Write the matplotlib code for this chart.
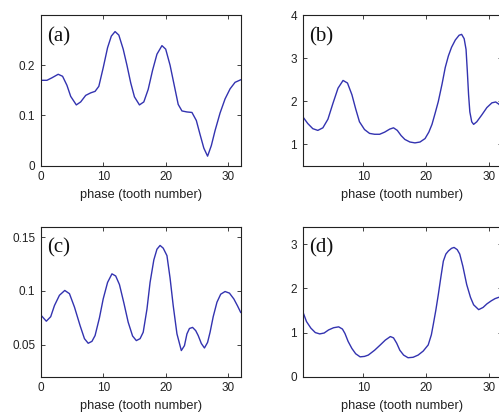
import matplotlib
matplotlib.use("Agg")
import matplotlib.pyplot as plt

# ---- data ----
a_x = [0, 1.0, 1.8, 2.8, 3.5, 4.2, 4.8, 5.7, 6.4, 7.2, 8.0, 8.7, 9.3, 10.0, 10.7, 11.3, 11.9, 12.5,
       13.2, 13.8, 14.4, 15.0, 15.8, 16.5, 17.2, 17.9, 18.6, 19.4, 20.0, 20.7, 21.4, 22.0, 22.6,
       23.4, 24.2, 24.9, 25.5, 26.1, 26.7, 27.3, 27.9, 28.7, 29.5, 30.3, 31.1, 32.0]
a_y = [0.170, 0.170, 0.175, 0.182, 0.178, 0.160, 0.138, 0.121, 0.127, 0.140, 0.145, 0.148, 0.158,
       0.195, 0.235, 0.258, 0.267, 0.260, 0.232, 0.200, 0.165, 0.137, 0.121, 0.127, 0.152, 0.190,
       0.222, 0.239, 0.232, 0.200, 0.158, 0.122, 0.109, 0.107, 0.106, 0.090, 0.062, 0.035, 0.019,
       0.040, 0.070, 0.105, 0.133, 0.153, 0.166, 0.171]

b_x = [0.4, 1.2, 2.0, 2.8, 3.6, 4.4, 5.2, 6.0, 6.8, 7.5, 8.2, 8.8, 9.4, 10.2, 11.0, 11.8, 12.6,
       13.4, 14.2, 14.8, 15.4, 16.0, 16.6, 17.4, 18.2, 19.0, 19.8, 20.4, 20.9, 21.4, 21.9, 22.5,
       23.0, 23.5, 24.0, 24.6, 25.2, 25.6, 26.0, 26.3, 26.5, 26.7, 26.9, 27.2, 27.5, 28.0, 28.8,
       29.6, 30.4, 31.0, 31.5, 32.0]
b_y = [1.64, 1.48, 1.36, 1.32, 1.38, 1.58, 1.95, 2.30, 2.48, 2.42, 2.15, 1.82, 1.52, 1.34, 1.25,
       1.23, 1.23, 1.28, 1.35, 1.38, 1.32, 1.20, 1.11, 1.05, 1.03, 1.05, 1.13, 1.28, 1.46, 1.72,
       1.99, 2.40, 2.78, 3.05, 3.25, 3.42, 3.53, 3.55, 3.45, 3.20, 2.70, 2.15, 1.75, 1.52, 1.46,
       1.52, 1.68, 1.85, 1.96, 1.98, 1.93, 1.85]

c_x = [0, 0.9, 1.6, 2.2, 3.0, 3.85, 4.6, 5.4, 6.3, 7.0, 7.6, 8.2, 8.7, 9.4, 10.0, 10.7, 11.4,
       12.0, 12.6, 13.3, 14.0, 14.7, 15.3, 15.9, 16.4, 17.0, 17.5, 18.1, 18.6, 19.1, 19.6, 20.2,
       20.7, 21.2, 21.8, 22.5, 23.0, 23.4, 23.8, 24.3, 24.8, 25.2, 25.7, 26.2, 26.7, 27.1, 27.6,
       28.2, 28.8, 29.5, 30.2, 30.9, 31.5, 32.0]
c_y = [0.0777, 0.0718, 0.0760, 0.0864, 0.0960, 0.1005, 0.0975, 0.0850, 0.0677, 0.0555, 0.0512,
       0.0530, 0.0584, 0.0750, 0.0926, 0.1080, 0.1160, 0.1140, 0.1060, 0.0890, 0.0708, 0.0580,
       0.0537, 0.0555, 0.0615, 0.0830, 0.1080, 0.1290, 0.1390, 0.1425, 0.1400, 0.1330, 0.1120,
       0.0864, 0.0600, 0.0444, 0.0490, 0.0600, 0.0650, 0.0660, 0.0630, 0.0584, 0.0510, 0.0468,
       0.0520, 0.0615, 0.0760, 0.0895, 0.0970, 0.0995, 0.0980, 0.0926, 0.0860, 0.0800]

d_x = [0.4, 1.0, 1.7, 2.4, 3.1, 3.8, 4.5, 5.3, 6.1, 6.7, 7.1, 7.6, 8.2, 8.8, 9.5, 10.2, 10.8,
       11.8, 12.7, 13.5, 14.3, 14.8, 15.3, 15.8, 16.4, 17.1, 17.9, 18.7, 19.5, 20.3, 20.8, 21.1,
       21.5, 21.9, 22.3, 22.7, 23.1, 23.5, 24.0, 24.4, 24.9, 25.3, 25.8, 26.4, 27.0, 27.5, 28.3,
       29.0, 29.6, 30.3, 30.9, 31.5, 32.0]
d_y = [1.48, 1.25, 1.10, 1.00, 0.97, 0.99, 1.06, 1.11, 1.13, 1.08, 0.98, 0.80, 0.64, 0.52, 0.45,
       0.46, 0.49, 0.60, 0.72, 0.83, 0.91, 0.88, 0.76, 0.60, 0.49, 0.43, 0.44, 0.49, 0.58, 0.72,
       0.95, 1.18, 1.50, 1.86, 2.25, 2.62, 2.78, 2.85, 2.91, 2.93, 2.88, 2.78, 2.50, 2.09, 1.80,
       1.63, 1.52, 1.57, 1.65, 1.72, 1.77, 1.80, 1.80]

panels = ["(a)", "(b)", "(c)", "(d)"]
xticks_left = [0, 10, 20, 30]
xticks_right = [10, 20, 30]
a_yticks = [0, 0.1, 0.2]
b_yticks = [1, 2, 3, 4]
c_yticks = [0.05, 0.1, 0.15]
d_yticks = [0, 1, 2, 3]
xlabel = "phase (tooth number)"

W, H = 499, 416
fig = plt.figure(figsize=(W / 100, H / 100), dpi=100)
fig.patch.set_facecolor("white")

def px_axes(left, top, right, bottom):
    return fig.add_axes([left / W, (H - bottom) / H, (right - left) / W, (bottom - top) / H])

specs = [
    (px_axes(40.7, 15.0, 240.7, 165.7), a_x, a_y, (0, 32), (0, 0.3), xticks_left, a_yticks, ["0", "0.1", "0.2"]),
    (px_axes(302.7, 15.0, 502.0, 165.7), b_x, b_y, (0.4, 32), (0.5, 4), xticks_right, b_yticks, ["1", "2", "3", "4"]),
    (px_axes(40.7, 226.7, 240.7, 376.7), c_x, c_y, (0, 32), (0.02, 0.16), xticks_left, c_yticks, ["0.05", "0.1", "0.15"]),
    (px_axes(302.7, 226.7, 502.0, 376.7), d_x, d_y, (0.4, 32), (0, 3.4), xticks_right, d_yticks, ["0", "1", "2", "3"]),
]

tick_font = dict(family=["Liberation Sans", "DejaVu Sans"], size=8.5)

for (ax, x, y, xl, yl, xt, yt, ytl), lab in zip(specs, panels):
    ax.plot(x, y, color="#3333b0", lw=1.0)
    ax.set_xlim(*xl)
    ax.set_ylim(*yl)
    ax.set_xticks(xt)
    ax.set_xticklabels([str(v) for v in xt], fontdict=tick_font, color="#222222")
    ax.set_yticks(yt)
    ax.set_yticklabels(ytl, fontdict=tick_font, color="#222222")
    ax.tick_params(direction="in", length=3, width=0.6, top=True, right=True, pad=4, colors="#222222")
    for s in ax.spines.values():
        s.set_linewidth(0.8)
        s.set_color("#222222")
    ax.set_xlabel(xlabel, fontdict=dict(family=["Liberation Sans", "DejaVu Sans"], size=9.2), color="#222222", labelpad=4)
    ax.text(6 / 200, 1 - 12 / 150, lab, transform=ax.transAxes, ha="left", va="top",
            fontfamily=["Liberation Serif", "DejaVu Serif"], fontsize=15, color="#111111")

fig.savefig("out.png", dpi=100, facecolor="white")
